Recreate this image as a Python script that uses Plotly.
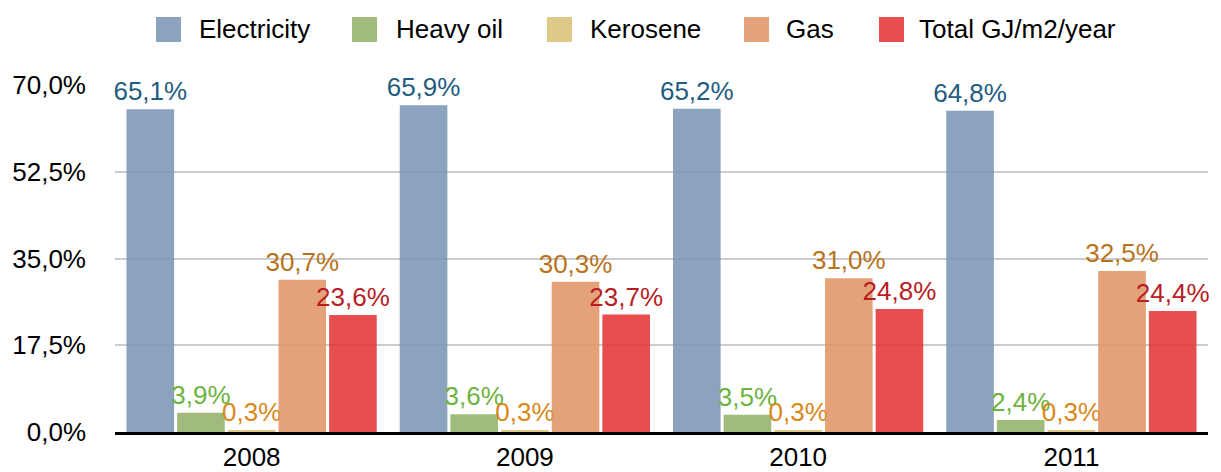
import plotly.graph_objects as go

years = ["2008", "2009", "2010", "2011"]
electricity = [65.1, 65.9, 65.2, 64.8]
heavy_oil = [3.9, 3.6, 3.5, 2.4]
kerosene = [0.3, 0.3, 0.3, 0.3]
gas = [30.7, 30.3, 31.0, 32.5]
total = [23.6, 23.7, 24.8, 24.4]
y_ticks = [0, 17.5, 35, 52.5, 70]

series = [
    ("Electricity", electricity, "#7893b4", "#1f5c80"),
    ("Heavy oil", heavy_oil, "#8faf64", "#6db33f"),
    ("Kerosene", kerosene, "#d8bf72", "#d9881a"),
    ("Gas", gas, "#de925f", "#b8731c"),
    ("Total GJ/m2/year", total, "#e42f31", "#b81d25"),
]

# the page body adds an 8px offset; build the figure in page pixel terms
OFF = 8
W, H = 1221 - OFF, 472 - OFF
L, R, T, B = 115 - OFF, 13, 85 - OFF, 40
FONT = "Liberation Sans, Arial"
FS = 26


def px_x(p):
    return (p - OFF - L) / (W - L - R)


def px_y(p):
    return (H - B - (p - OFF)) / (H - B - T)


fig = go.Figure()
for name, vals, col, tcol in series:
    fig.add_trace(go.Bar(
        x=years, y=vals, name=name,
        marker=dict(color=col, opacity=0.85, line=dict(width=0)),
        texttemplate="%{y:.1f}%", textposition="outside",
        textfont=dict(color=tcol, size=FS, family=FONT),
        constraintext="none", cliponaxis=False,
    ))

# custom legend (large square swatches)
legend_sq_x = [156, 352, 547, 744, 879]
legend_txt_x = [197, 394, 588, 784, 917]
shapes, annotations = [], []
for (name, vals, col, tcol), sx, tx in zip(series, legend_sq_x, legend_txt_x):
    shapes.append(dict(type="rect", xref="paper", yref="paper",
                       x0=px_x(sx), x1=px_x(sx + 25), y0=px_y(42), y1=px_y(17),
                       fillcolor=col, opacity=0.85, line=dict(width=0)))
    annotations.append(dict(xref="paper", yref="paper", x=px_x(tx), y=px_y(29.5),
                            xanchor="left", yanchor="middle", text=name, showarrow=False,
                            font=dict(size=FS, color="black", family=FONT)))

fig.update_layout(
    width=W, height=H,
    barmode="group", bargap=0.073, bargroupgap=0.06,
    separators=",.",
    showlegend=False,
    plot_bgcolor="white", paper_bgcolor="white",
    margin=dict(l=L, r=R, t=T, b=B, autoexpand=False),
    font=dict(family=FONT, size=FS, color="black"),
    shapes=shapes, annotations=annotations,
)
fig.update_yaxes(range=[0, 70], tickvals=y_ticks,
                 ticktext=[f"{v:.1f}%".replace(".", ",") for v in y_ticks],
                 gridcolor="#cccccc", gridwidth=1.5,
                 zeroline=False, showline=False, ticks="", ticklabelstandoff=28,
                 tickfont=dict(size=FS, family=FONT))
fig.update_xaxes(showline=True, linecolor="black", linewidth=3, ticks="",
                 tickfont=dict(size=FS, family=FONT))

fig.write_html("out.html")
